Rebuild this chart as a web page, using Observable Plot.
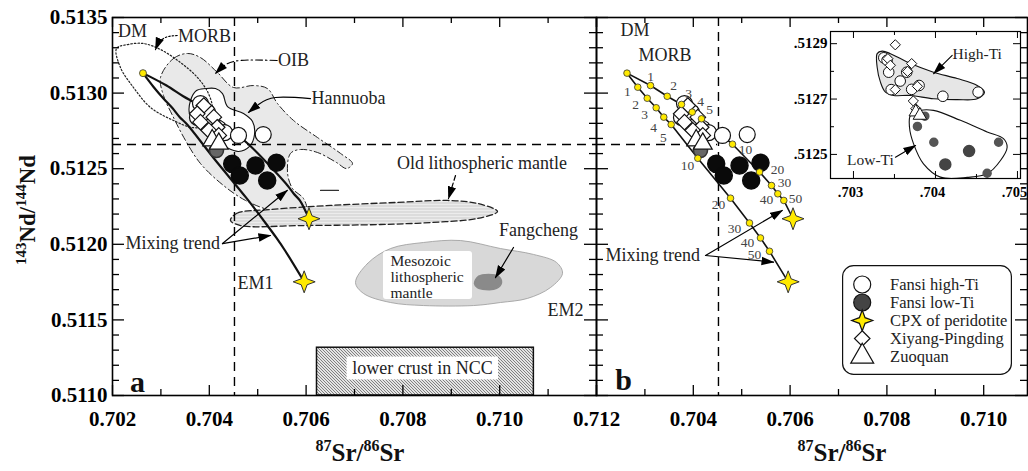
<!DOCTYPE html>
<html><head><meta charset="utf-8">
<script src="https://cdn.jsdelivr.net/npm/d3@7"></script>
<script src="https://cdn.jsdelivr.net/npm/@observablehq/plot@0.6"></script>
<style>
body{margin:0;background:#fff}
#c{position:relative;width:1028px;height:471px;overflow:hidden;background:#fff}
#c svg{position:absolute;top:0;overflow:visible;background:transparent}
</style></head><body><div id="c"></div>
<script>
// ================= DATA =================
const srTicksA = [0.702, 0.704, 0.706, 0.708, 0.710, 0.712];
const srMinorA = [0.703, 0.705, 0.707, 0.709, 0.711];
const srTicksB = [0.704, 0.706, 0.708, 0.710];
const srMajorB = [0.702, 0.704, 0.706, 0.708, 0.710];
const srMinorB = [0.703, 0.705, 0.707, 0.709];
const ndTicks = [0.5110, 0.5115, 0.5120, 0.5125, 0.5130, 0.5135];
const ndMinor = [0.5111,0.5112,0.5113,0.5114,0.5116,0.5117,0.5118,0.5119,0.5121,0.5122,0.5123,0.5124,0.5126,0.5127,0.5128,0.5129,0.5131,0.5132,0.5133,0.5134];
const srRef = [0.70452];
const ndRef = [0.51266];

// mixing curves DM -> CPX of peridotite (percent marks)
const mixPct  = [0, 1, 2, 3, 4, 5, 10, 20, 30, 40, 50, 100];
const upperSr = [0.70263,0.703116,0.703461,0.703756,0.703977,0.704169,0.704810,0.705368,0.705616,0.705746,0.705870,0.70606];
const upperNd = [0.513132,0.513050,0.512979,0.512925,0.512874,0.512830,0.512662,0.512478,0.512389,0.512334,0.512290,0.512169];
const lowerSr = [0.70263,0.702853,0.703048,0.703233,0.703390,0.703543,0.704093,0.704769,0.705161,0.705388,0.705574,0.70596];
const lowerNd = [0.513132,0.513039,0.512966,0.512903,0.512841,0.512792,0.512569,0.512305,0.512141,0.512042,0.511954,0.511752];
const upperLabSr = [null,0.703116,0.703591,0.703901,0.704149,0.704335,0.705079,0.705740,0.705884,0.705512,0.706112];
const upperLabNd = [null,0.513110,0.513050,0.512997,0.512944,0.512891,0.512627,0.512495,0.512409,0.512296,0.512303];
const lowerLabSr = [null,0.702640,0.702806,0.702992,0.703178,0.703384,0.703880,0.704521,0.704851,0.705120,0.705264];
const lowerLabNd = [null,0.513011,0.512925,0.512858,0.512772,0.512706,0.512521,0.512263,0.512104,0.512012,0.511933];

// samples (main panels)
const highTiSr = [0.703818,0.703756,0.703963,0.704066,0.704190,0.704314,0.704603,0.705114];
const highTiNd = [0.512931,0.512839,0.512872,0.512786,0.512766,0.512739,0.512720,0.512726];
const lowTiSr  = [0.704473,0.704630,0.704955,0.705196,0.705388];
const lowTiNd  = [0.512532,0.512455,0.512521,0.512422,0.512539];
const lowTiGreySr = [0.704149];
const lowTiGreyNd = [0.512620];
const xiyangSr = [0.703886,0.703750,0.703818,0.704093,0.704163,0.703990,0.704196];
const xiyangNd = [0.512918,0.512863,0.512808,0.512841,0.512774,0.512753,0.512720];
const zuoquanSr = [0.704060,0.704196];
const zuoquanNd = [0.512687,0.512665];

// fields (panel a)
const morbField = [[0.702083,0.513295],[0.702310,0.513321],[0.702640,0.513328],[0.702992,0.513288],[0.703405,0.513202],[0.703756,0.513103],[0.703983,0.512997],[0.704066,0.512885],[0.703921,0.512786],[0.703653,0.512772],[0.703260,0.512819],[0.702785,0.512905],[0.702434,0.513037],[0.702165,0.513169]];
const oibField = [[0.702992,0.513103],[0.703260,0.513229],[0.703550,0.513262],[0.703818,0.513235],[0.704169,0.513136],[0.704500,0.513037],[0.704913,0.513050],[0.705202,0.513030],[0.705409,0.512931],[0.705740,0.512819],[0.706236,0.512706],[0.706711,0.512601],[0.706959,0.512534],[0.706835,0.512501],[0.706628,0.512541],[0.706236,0.512607],[0.705884,0.512627],[0.705678,0.512601],[0.705616,0.512475],[0.705719,0.512369],[0.705946,0.512303],[0.706008,0.512224],[0.705781,0.512197],[0.705264,0.512224],[0.704748,0.512290],[0.704293,0.512389],[0.703818,0.512534],[0.703508,0.512687],[0.703240,0.512852],[0.703054,0.512984]];
const hannuobaField = [[0.703612,0.512951],[0.703736,0.513017],[0.703921,0.513030],[0.704128,0.513030],[0.704273,0.512997],[0.704376,0.512911],[0.704707,0.512865],[0.704893,0.512812],[0.704934,0.512726],[0.704831,0.512647],[0.704603,0.512614],[0.704355,0.512640],[0.704066,0.512700],[0.703777,0.512779],[0.703591,0.512865]];
const oldLithField = [[0.704438,0.512158],[0.704562,0.512204],[0.705264,0.512230],[0.706504,0.512257],[0.707888,0.512277],[0.708921,0.512290],[0.709541,0.512270],[0.709955,0.512217],[0.709541,0.512171],[0.708570,0.512144],[0.707537,0.512131],[0.705884,0.512124],[0.704645,0.512124]];
const mesozoicField = [[0.707021,0.511747],[0.707269,0.511873],[0.707744,0.511972],[0.708426,0.512012],[0.709190,0.512025],[0.710017,0.511972],[0.710698,0.511933],[0.711174,0.511880],[0.711298,0.511808],[0.711050,0.511714],[0.710574,0.511642],[0.710017,0.511615],[0.709459,0.511595],[0.708426,0.511595],[0.707744,0.511615],[0.707186,0.511675]];
const fangchengField = [[0.709479,0.511741],[0.709562,0.511788],[0.709769,0.511801],[0.709975,0.511788],[0.710037,0.511747],[0.709934,0.511708],[0.709707,0.511701],[0.709541,0.511714]];
const lowerCrustBox = [{x1:0.706225, x2:0.710706, y1:0.5110, y2:0.511316}];
const mesozoicLabelBox = [{x1:0.707599, x2:0.709438, y1:0.511635, y2:0.511953}];
const lowerCrustLabelBox = [{x1:0.706847, x2:0.709975, y1:0.511103, y2:0.511254}];
const stray = [[0.706298,0.512356],[0.706669,0.512356]];

// pointers (panel a)
const morbPointer = [[0.703337,0.513381],[0.703095,0.513368],[0.702950,0.513328],[0.702888,0.513288]];
const oibPointer = [[0.705403,0.513216],[0.704645,0.513216],[0.704314,0.513183],[0.704128,0.513130]];
const hannuobaPointer = [[0.706091,0.512964],[0.705368,0.512971],[0.705017,0.512925],[0.704810,0.512872]];
const oldLithPointer = [[0.709087,0.512455],[0.708942,0.512303]];
const fangchengPointer = [[0.710285,0.511979],[0.709913,0.511780]];
const mixPointersA = [[[0.704273,0.512005],[0.705610,0.512356]],[[0.704273,0.512005],[0.705264,0.512058]]];
const mixPointersB = [[[0.704252,0.511926],[0.705837,0.512224]],[[0.704252,0.511926],[0.705657,0.511882]]];

// text labels
const labelsA = [
  {t:"DM", sr:0.702413, nd:0.513407}, {t:"MORB", sr:0.703901, nd:0.513374},
  {t:"OIB", sr:0.70574, nd:0.513216}, {t:"EM1", sr:0.704955, nd:0.511741},
  {t:"EM2", sr:0.71136, nd:0.511562}, {t:"Old lithospheric mantle", sr:0.709634, nd:0.512534},
  {t:"Fangcheng", sr:0.710802, nd:0.512091}, {t:"lower crust in NCC", sr:0.708405, nd:0.511179}
];
const labelsAStart = [
  {t:"Hannuoba", sr:0.706112, nd:0.512964}, {t:"Mixing trend", sr:0.702269, nd:0.512005},
  {t:"Mesozoic", sr:0.707744, nd:0.511888}, {t:"lithospheric", sr:0.707744, nd:0.511784},
  {t:"mantle", sr:0.707744, nd:0.511680}
];
const labelsB = [{t:"DM", sr:0.702496, nd:0.513414}, {t:"MORB", sr:0.702868, nd:0.513249}];
const labelsBStart = [{t:"Mixing trend", sr:0.702186, nd:0.511926}];
const panelLetters = [{t:"a", sr:0.702517, nd:0.511086}];
const panelLettersB = [{t:"b", sr:0.702558, nd:0.511099}];

// inset
const insetSrTicks = [0.703, 0.704, 0.705];
const insetSrMinor = [0.7035, 0.7045];
const insetNdTicks = [0.5125, 0.5127, 0.5129];
const insetNdMinor = [0.5126, 0.5128];
const insetHighSr = [0.70337,0.70341,0.70343,0.70357,0.70365,0.70346,0.70371,0.70380,0.70409,0.70452];
const insetHighNd = [0.512849,0.512840,0.512797,0.512765,0.512797,0.512734,0.512735,0.512749,0.512710,0.512725];
const insetXiSr = [0.70351,0.70342,0.70345,0.70371,0.70366,0.70351,0.70378,0.70373,0.70376];
const insetXiNd = [0.512896,0.512846,0.512822,0.512828,0.512800,0.512734,0.512746,0.512693,0.512665];
const insetZuoSr = [0.70376,0.70381];
const insetZuoNd = [0.512653,0.512641];
const insetLowSr = [0.70378,0.70387,0.70398,0.70477,0.70463];
const insetLowNd = [0.512601,0.512638,0.512544,0.512544,0.512432];
const insetLowBigSr = [0.70441,0.70412];
const insetLowBigNd = [0.512512,0.512464];
const insetHighField = [[0.703289,0.512864],[0.703350,0.512873],[0.703451,0.512864],[0.703695,0.512828],[0.703976,0.512797],[0.704265,0.512774],[0.704509,0.512749],[0.704598,0.512725],[0.704509,0.512701],[0.704265,0.512698],[0.703976,0.512701],[0.703695,0.512713],[0.703488,0.512713],[0.703390,0.512725],[0.703329,0.512761],[0.703289,0.512815]];
const insetLowField = [[0.703695,0.512641],[0.703817,0.512659],[0.703976,0.512659],[0.704305,0.512623],[0.704630,0.512581],[0.704829,0.512557],[0.704874,0.512526],[0.704793,0.512478],[0.704630,0.512430],[0.704387,0.512417],[0.704061,0.512418],[0.703854,0.512466],[0.703732,0.512539],[0.703683,0.512599]];
const insetLabels = [{t:"High-Ti", sr:0.704509, nd:0.512864}, {t:"Low-Ti", sr:0.703207, nd:0.512481}];
const insetPointers = [[[0.704204,0.512858],[0.703979,0.512792]],[[0.703512,0.512490],[0.703756,0.512532]]];

// legend
const legendNames = ["Fansi high-Ti", "Fansi low-Ti", "CPX of peridotite", "Xiyang-Pingding", "Zuoquan"];

// ================= HELPERS =================
const serif = "'Liberation Serif', 'Times New Roman', serif";
const rows = (xs, ys) => xs.map((sr, i) => ({sr, nd: ys[i]})).filter(d => d.sr != null);
const pts = (pairs) => pairs.map(([sr, nd]) => ({sr, nd}));
const star4 = { draw(ctx, size) {
  const R = Math.sqrt(size / Math.PI), k = R * 0.27;
  ctx.moveTo(0, -R); ctx.lineTo(k, -k); ctx.lineTo(R, 0); ctx.lineTo(k, k);
  ctx.lineTo(0, R); ctx.lineTo(-k, k); ctx.lineTo(-R, 0); ctx.lineTo(-k, -k); ctx.closePath();
}};
const upper = rows(upperSr, upperNd), lower = rows(lowerSr, lowerNd);
const cpx = [upper[upper.length - 1], lower[lower.length - 1]];
const dm = [upper[0]];
const mixDots = [...upper.slice(0, -1), ...lower.slice(1, -1)];
const pctLabels = (xs, ys) => xs.map((sr, i) => ({sr, nd: ys[i], t: String(mixPct[i])})).filter(d => d.sr != null);

function defsMark() {
  const ns = "http://www.w3.org/2000/svg";
  const defs = document.createElementNS(ns, "defs");
  defs.innerHTML = `<pattern id="hatch" patternUnits="userSpaceOnUse" width="3" height="3"><rect width="3" height="3" fill="#e4e4e4"/><path d="M-1,-1L4,4M-1,2L1,4M2,-1L4,1" stroke="#555" stroke-width="0.7"/></pattern>
  <pattern id="stripes" patternUnits="userSpaceOnUse" width="4" height="3"><rect width="4" height="3" fill="#ececec"/><path d="M0,1.5H4" stroke="#c4c4c4" stroke-width="0.8"/></pattern>`;
  return defs;
}
function richText(x, y, parts, rotate = 0) {
  return () => {
    const t = d3.create("svg:text").attr("transform", `translate(${x},${y}) rotate(${rotate})`)
      .attr("text-anchor", "middle").attr("font-family", serif).attr("font-weight", "bold").attr("fill", "#111");
    for (const [s, size, dy] of parts) t.append("tspan").attr("font-size", size).attr("dy", dy).text(s);
    return t.node();
  };
}
function roundBox(w, h, r) {
  return () => d3.create("svg:rect").attr("x", 0.6).attr("y", 0.6).attr("width", w - 1.2).attr("height", h - 1.2)
    .attr("rx", r).attr("fill", "white").attr("stroke", "#111").attr("stroke-width", 1.2).node();
}
function fillMarkers(svg) {
  svg.querySelectorAll("marker").forEach(m => {
    m.setAttribute("viewBox", "-12 -5 13 10");
    m.setAttribute("markerUnits", "userSpaceOnUse");
    m.setAttribute("markerWidth", "13"); m.setAttribute("markerHeight", "10");
    const c = m.getAttribute("stroke") || "black";
    m.setAttribute("fill", c); m.setAttribute("stroke", "none");
    const p = m.querySelector("path"); if (p) p.setAttribute("d", "M-12,-4.2L1,0L-12,4.2Z");
  });
}
function ticks(xMaj, xMin, yMaj, yMin, pw, ph) {
  const m = [];
  const MJ = 10, MN = 6;
  m.push(Plot.tickX(xMaj, {x: d => d, insetTop: ph - MJ, strokeWidth: 1.3}));
  m.push(Plot.tickX(xMin, {x: d => d, insetTop: ph - MN, strokeWidth: 1.3}));
  m.push(Plot.tickX(xMaj, {x: d => d, insetBottom: ph - MJ, strokeWidth: 1.3}));
  m.push(Plot.tickX(xMin, {x: d => d, insetBottom: ph - MN, strokeWidth: 1.3}));
  m.push(Plot.tickY(yMaj, {y: d => d, insetRight: pw - 12, strokeWidth: 1.3}));
  m.push(Plot.tickY(yMin, {y: d => d, insetRight: pw - 7, strokeWidth: 1.3}));
  m.push(Plot.tickY(yMaj, {y: d => d, insetLeft: pw - 12, strokeWidth: 1.3}));
  m.push(Plot.tickY(yMin, {y: d => d, insetLeft: pw - 7, strokeWidth: 1.3}));
  return m;
}
function sampleMarks() {
  return [
    Plot.dot(rows(highTiSr, highTiNd), {x: "sr", y: "nd", r: 8, fill: "white", stroke: "#111", strokeWidth: 1.2}),
    Plot.dot(rows(xiyangSr, xiyangNd), {x: "sr", y: "nd", r: 7, symbol: "diamond2", fill: "white", stroke: "#111", strokeWidth: 1.2}),
    Plot.dot(rows(lowTiGreySr, lowTiGreyNd), {x: "sr", y: "nd", r: 7, fill: "#666", stroke: "#333"}),
    Plot.dot(rows(zuoquanSr, zuoquanNd), {x: "sr", y: "nd", r: 7, symbol: "triangle", fill: "white", stroke: "#111", strokeWidth: 1.2}),
    Plot.dot(rows(lowTiSr, lowTiNd), {x: "sr", y: "nd", r: 8.5, fill: "#0a0a0a", stroke: "#0a0a0a"})
  ];
}

const yDomain = [0.5110, 0.5135];
const textOpts = {x: "sr", y: "nd", text: "t", fontFamily: serif, fill: "#222"};

// ================= PANEL A =================
const pwA = 484, phA = 378;
const plotA = Plot.plot({
  width: 600, height: 471, marginLeft: 112, marginRight: 4, marginTop: 17, marginBottom: 76,
  x: {domain: [0.702, 0.712]}, y: {domain: yDomain},
  style: {fontFamily: serif, background: "transparent", overflow: "visible"},
  marks: [
    defsMark,
    Plot.line(pts(oibField), {x: "sr", y: "nd", curve: "catmull-rom-closed", fill: "#e9e9e9", stroke: "#222", strokeWidth: 1, strokeDasharray: "7,3,1.5,3"}),
    Plot.line(pts(oldLithField), {x: "sr", y: "nd", curve: "catmull-rom-closed", fill: "url(#stripes)", stroke: "#222", strokeWidth: 1.3, strokeDasharray: "6,3"}),
    Plot.line(pts(mesozoicField), {x: "sr", y: "nd", curve: "catmull-rom-closed", fill: "#d8d8d8", stroke: "#999", strokeWidth: 0.8}),
    Plot.rect(mesozoicLabelBox, {x1: "x1", x2: "x2", y1: "y1", y2: "y2", fill: "white", rx: 3}),
    Plot.line(pts(fangchengField), {x: "sr", y: "nd", curve: "catmull-rom-closed", fill: "#8a8a8a", stroke: "#8a8a8a"}),
    Plot.rect(lowerCrustBox, {x1: "x1", x2: "x2", y1: "y1", y2: "y2", fill: "url(#hatch)", stroke: "#111", strokeWidth: 1.5}),
    Plot.rect(lowerCrustLabelBox, {x1: "x1", x2: "x2", y1: "y1", y2: "y2", fill: "white"}),
    Plot.line(pts(hannuobaField), {x: "sr", y: "nd", curve: "catmull-rom-closed", fill: "white", stroke: "#111", strokeWidth: 1.1}),
    Plot.line(pts(morbField), {x: "sr", y: "nd", curve: "catmull-rom-closed", stroke: "#222", strokeWidth: 1.2, strokeDasharray: "1.5,2"}),
    Plot.line(pts(stray), {x: "sr", y: "nd", stroke: "#333", strokeWidth: 1.2}),
    Plot.ruleX(srRef, {strokeDasharray: "9,6", strokeWidth: 1.4}),
    Plot.ruleY(ndRef, {strokeDasharray: "9,6", strokeWidth: 1.4}),
    Plot.line(upper, {x: "sr", y: "nd", curve: "catmull-rom", strokeWidth: 2.2, stroke: "#111"}),
    Plot.line(lower, {x: "sr", y: "nd", curve: "catmull-rom", strokeWidth: 2.2, stroke: "#111"}),
    ...sampleMarks(),
    Plot.dot(dm, {x: "sr", y: "nd", r: 3.5, fill: "#ffea00", stroke: "#333", strokeWidth: 0.8}),
    Plot.dot(cpx, {x: "sr", y: "nd", r: 11, symbol: star4, fill: "#ffea00", stroke: "#333", strokeWidth: 1}),
    Plot.line(pts(morbPointer), {x: "sr", y: "nd", curve: "natural", strokeDasharray: "1.5,2", strokeWidth: 1.2, markerEnd: "arrow"}),
    Plot.line(pts(oibPointer), {x: "sr", y: "nd", curve: "natural", strokeDasharray: "7,3,1.5,3", strokeWidth: 1.1, markerEnd: "arrow"}),
    Plot.line(pts(hannuobaPointer), {x: "sr", y: "nd", curve: "natural", strokeWidth: 1.2, markerEnd: "arrow"}),
    Plot.line(pts(oldLithPointer), {x: "sr", y: "nd", strokeDasharray: "5,3", strokeWidth: 1.2, markerEnd: "arrow"}),
    Plot.line(pts(fangchengPointer), {x: "sr", y: "nd", strokeWidth: 1.2, markerEnd: "arrow"}),
    ...mixPointersA.map(p => Plot.line(pts(p), {x: "sr", y: "nd", strokeWidth: 1.2, markerEnd: "arrow"})),
    Plot.text(labelsA, {...textOpts, fontSize: 18}),
    Plot.text(labelsAStart.slice(0, 2), {...textOpts, fontSize: 18, textAnchor: "start"}),
    Plot.text(labelsAStart.slice(2), {...textOpts, fontSize: 15.5, textAnchor: "start"}),
    Plot.text(panelLetters, {...textOpts, fontSize: 30, fontWeight: "bold", fill: "#111"}),
    Plot.frame({strokeWidth: 1.6}),
    ...ticks(srTicksA, srMinorA, ndTicks, ndMinor, pwA, phA),
    Plot.axisX(srTicksA, {tickSize: 0, tickPadding: 16, tickFormat: d3.format(".3f"), fontSize: 21, fontWeight: "bold", label: null}),
    Plot.axisY(ndTicks, {tickSize: 0, tickPadding: 5, tickFormat: d3.format(".4f"), fontSize: 21, fontWeight: "bold", label: null}),
    richText(35, 210, [["143", 15, -9], ["Nd/", 23, 9], ["144", 15, -9], ["Nd", 23, 9]], -90),
    richText(360, 461, [["87", 16, -10], ["Sr/", 25, 10], ["86", 16, -10], ["Sr", 25, 10]])
  ]
});
fillMarkers(plotA);
plotA.style.left = "0px";

// ================= PANEL B =================
const pwB = 431;
const plotB = Plot.plot({
  width: 452, height: 471, marginLeft: 20, marginRight: 1, marginTop: 17, marginBottom: 76,
  x: {domain: [0.702, 0.702 + pwB / 48400]}, y: {domain: yDomain, axis: null},
  style: {fontFamily: serif, background: "transparent", overflow: "visible"},
  marks: [
    Plot.ruleX(srRef, {strokeDasharray: "9,6", strokeWidth: 1.4}),
    Plot.ruleY(ndRef, {x1: 0.702, x2: 0.7045, strokeDasharray: "9,6", strokeWidth: 1.4}),
    Plot.line(upper, {x: "sr", y: "nd", strokeWidth: 1.6, stroke: "#111"}),
    Plot.line(lower, {x: "sr", y: "nd", strokeWidth: 1.6, stroke: "#111"}),
    ...sampleMarks(),
    Plot.dot(mixDots, {x: "sr", y: "nd", r: 3.3, fill: "#ffea00", stroke: "#333", strokeWidth: 0.8}),
    Plot.dot(cpx, {x: "sr", y: "nd", r: 11, symbol: star4, fill: "#ffea00", stroke: "#333", strokeWidth: 1}),
    Plot.text(pctLabels(upperLabSr, upperLabNd), {...textOpts, fontSize: 13.5, fill: "#444"}),
    Plot.text(pctLabels(lowerLabSr, lowerLabNd), {...textOpts, fontSize: 13.5, fill: "#444"}),
    ...mixPointersB.map(p => Plot.line(pts(p), {x: "sr", y: "nd", strokeWidth: 1.2, markerEnd: "arrow"})),
    Plot.text(labelsB, {...textOpts, fontSize: 18, textAnchor: "start"}),
    Plot.text(labelsBStart, {...textOpts, fontSize: 18, textAnchor: "start"}),
    Plot.text(panelLettersB, {...textOpts, fontSize: 30, fontWeight: "bold", fill: "#111"}),
    Plot.frame({strokeWidth: 1.6}),
    ...ticks(srMajorB, srMinorB, ndTicks, ndMinor, pwB, phA),
    Plot.axisX(srTicksB, {tickSize: 0, tickPadding: 16, tickFormat: d3.format(".3f"), fontSize: 21, fontWeight: "bold", label: null}),
    richText(266, 461, [["87", 16, -10], ["Sr/", 25, 10], ["86", 16, -10], ["Sr", 25, 10]])
  ]
});
fillMarkers(plotB);
plotB.style.left = "576px";

// ================= INSET =================
const plotI = Plot.plot({
  width: 248, height: 215, marginLeft: 50, marginRight: 8, marginTop: 31, marginBottom: 37,
  x: {domain: [0.70272, 0.705037]}, y: {domain: [0.512413, 0.512944]},
  style: {fontFamily: serif, background: "transparent", overflow: "visible"},
  marks: [
    Plot.frame({fill: "white"}),
    Plot.line(pts(insetHighField), {x: "sr", y: "nd", curve: "catmull-rom-closed", fill: "#e6e6e6", stroke: "#111", strokeWidth: 1.1}),
    Plot.line(pts(insetLowField), {x: "sr", y: "nd", curve: "catmull-rom-closed", fill: "white", stroke: "#111", strokeWidth: 1.1}),
    Plot.dot(rows(insetLowSr, insetLowNd), {x: "sr", y: "nd", r: 4, fill: "#555", stroke: "#555"}),
    Plot.dot(rows(insetLowBigSr, insetLowBigNd), {x: "sr", y: "nd", r: 5.5, fill: "#444", stroke: "#444"}),
    Plot.dot(rows(insetHighSr, insetHighNd), {x: "sr", y: "nd", r: 5.3, fill: "white", stroke: "#111", strokeWidth: 1}),
    Plot.dot(rows(insetXiSr, insetXiNd), {x: "sr", y: "nd", r: 4.6, symbol: "diamond2", fill: "white", stroke: "#111", strokeWidth: 1}),
    Plot.dot(rows(insetZuoSr, insetZuoNd), {x: "sr", y: "nd", r: 5, symbol: "triangle", fill: "white", stroke: "#111", strokeWidth: 1}),
    ...insetPointers.map(p => Plot.line(pts(p), {x: "sr", y: "nd", strokeWidth: 1.1, markerEnd: "arrow"})),
    Plot.text(insetLabels, {...textOpts, fontSize: 15.5}),
    Plot.frame({strokeWidth: 1.2}),
    Plot.tickX(insetSrTicks, {x: d => d, insetTop: 147 - 7}),
    Plot.tickX(insetSrMinor, {x: d => d, insetTop: 147 - 4}),
    Plot.tickX(insetSrTicks, {x: d => d, insetBottom: 147 - 7}),
    Plot.tickX(insetSrMinor, {x: d => d, insetBottom: 147 - 4}),
    Plot.tickY(insetNdTicks, {y: d => d, insetRight: 190 - 7}),
    Plot.tickY(insetNdMinor, {y: d => d, insetRight: 190 - 4}),
    Plot.tickY(insetNdTicks, {y: d => d, insetLeft: 190 - 7}),
    Plot.tickY(insetNdMinor, {y: d => d, insetLeft: 190 - 4}),
    Plot.axisX(insetSrTicks, {tickSize: 0, tickPadding: 8, dx: -3, tickFormat: d => d3.format(".3f")(d).slice(1), fontSize: 14.5, fontWeight: "bold", label: null}),
    Plot.axisY(insetNdTicks, {tickSize: 0, tickPadding: 3, tickFormat: d => d3.format(".4f")(d).slice(1), fontSize: 15, fontWeight: "bold", label: null})
  ]
});
fillMarkers(plotI);
plotI.style.left = "780px";

// ================= LEGEND =================
const legendRows = legendNames.map(n => ({n}));
const legendSym = [
  {n: legendNames[0], fill: "white", sym: "circle", r: 8.5},
  {n: legendNames[1], fill: "#444", sym: "circle", r: 8.5},
  {n: legendNames[2], fill: "#ffea00", sym: star4, r: 10.5},
  {n: legendNames[3], fill: "white", sym: "diamond2", r: 7},
  {n: legendNames[4], fill: "white", sym: "triangle", r: 8.5}
];
const plotL = Plot.plot({
  width: 170, height: 110, margin: 0,
  x: {domain: [0, 1], axis: null}, y: {type: "point", domain: legendNames, range: [18, 92], padding: 0, axis: null},
  style: {fontFamily: serif, background: "transparent", overflow: "visible"},
  marks: [
    roundBox(170, 110, 11),
    ...legendSym.map(s => Plot.dot([s], {x: () => 0.116, y: "n", r: s.r, symbol: s.sym, fill: s.fill, stroke: "#111", strokeWidth: 1.2})),
    Plot.text(legendRows, {x: () => 0.28, y: "n", text: "n", textAnchor: "start", fontSize: 16.5, fontFamily: serif, fill: "#222"})
  ]
});
plotL.style.left = "842px";
plotL.style.top = "265px";

const c = document.getElementById("c");
c.append(plotA, plotB, plotI, plotL);
</script></body></html>
